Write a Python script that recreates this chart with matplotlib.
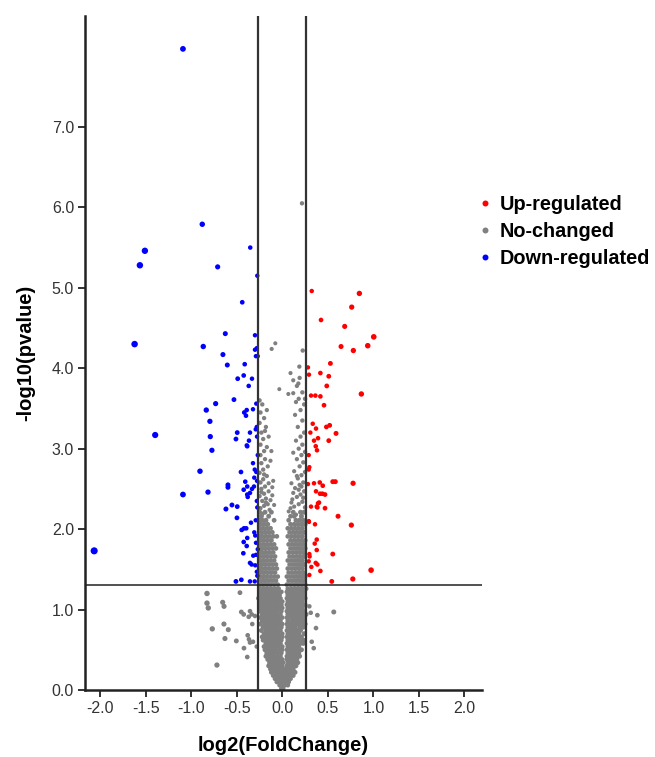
import matplotlib
matplotlib.use("Agg")
import matplotlib.pyplot as plt
from matplotlib.lines import Line2D

plt.rcParams['font.family'] = ['Liberation Sans', 'DejaVu Sans']

# ---------------- data ----------------
up_x = [0.323, 0.846, 0.762, 0.425, 0.685, 1.004, 0.645, 0.938, 0.78, 0.528, 0.282, 0.293, 0.418, 0.51,
        0.488, 0.868, 0.315, 0.363, 0.418, 0.458, 0.334, 0.37, 0.484, 0.52, 0.308, 0.59, 0.392, 0.348,
        0.51, 0.367, 0.381, 0.29, 0.297, 0.29, 0.282, 0.348, 0.411, 0.554, 0.582, 0.777, 0.444, 0.37,
        0.414, 0.44, 0.469, 0.403, 0.392, 0.378, 0.315, 0.385, 0.469, 0.612, 0.29, 0.293, 0.359, 0.758,
        0.378, 0.356, 0.378, 0.297, 0.554, 0.30, 0.29, 0.367, 0.385, 0.319, 0.418, 0.975, 0.297, 0.543, 0.774]
up_y = [4.96, 4.93, 4.76, 4.60, 4.52, 4.39, 4.27, 4.28, 4.22, 4.06, 4.01, 3.92, 3.94, 3.90,
        3.78, 3.68, 3.66, 3.66, 3.65, 3.54, 3.31, 3.25, 3.27, 3.29, 3.20, 3.19, 3.13, 3.10,
        3.10, 3.03, 2.98, 2.92, 2.77, 2.74, 2.56, 2.57, 2.58, 2.59, 2.59, 2.57, 2.54, 2.47,
        2.44, 2.44, 2.43, 2.33, 2.32, 2.28, 2.28, 2.27, 2.26, 2.16, 2.10, 2.09, 2.06, 2.05,
        1.87, 1.82, 1.74, 1.69, 1.69, 1.66, 1.60, 1.58, 1.56, 1.53, 1.48, 1.49, 1.43, 1.35, 1.38]

down_x = [-1.091, -0.879, -0.352, -1.509, -1.564, -0.71, -0.275, -0.44, -0.626, -0.30, -1.622, -0.868,
          -0.28, -0.30, -0.27, -0.29, -0.652, -0.604, -0.413, -0.49, -0.424, -0.333, -0.369, -0.531,
          -0.732, -0.286, -0.835, -0.391, -0.418, -0.322, -0.399, -0.795, -0.281, -0.292, -1.396,
          -0.495, -0.355, -0.791, -0.509, -0.278, -0.366, -0.39, -0.385, -0.773, -0.322, -0.904,
          -0.454, -0.303, -0.286, -0.407, -0.308, -0.278, -0.597, -0.597, -0.385, -0.424, -0.333,
          -0.311, -1.091, -0.816, -0.385, -0.38, -0.355, -0.553, -0.495, -0.619, -0.275, -0.498,
          -0.292, -0.344, -0.396, -0.446, -0.421, -0.308, -0.297, -0.385, -0.424, -0.391, -0.289,
          -0.428, -0.319, -0.289, -0.355, -0.337, -0.297, -0.509, -0.45, -0.355, -0.303, -0.275,
          -2.066, -0.27, -0.28, -0.27, -0.28]
down_y = [7.97, 5.79, 5.50, 5.46, 5.28, 5.26, 5.15, 4.82, 4.43, 4.41, 4.30, 4.27,
          4.25, 4.23, 4.15, 4.15, 4.17, 4.04, 4.05, 3.87, 3.91, 3.87, 3.78, 3.61,
          3.56, 3.56, 3.48, 3.48, 3.45, 3.49, 3.41, 3.34, 3.27, 3.24, 3.17,
          3.20, 3.20, 3.15, 3.12, 3.15, 3.10, 3.04, 3.03, 2.98, 2.82, 2.72,
          2.71, 2.74, 2.71, 2.59, 2.64, 2.60, 2.55, 2.52, 2.53, 2.49, 2.50,
          2.53, 2.43, 2.46, 2.43, 2.40, 2.45, 2.30, 2.28, 2.25, 2.27, 2.14,
          2.11, 2.08, 2.01, 1.99, 2.01, 1.96, 1.92, 1.89, 1.84, 1.79, 1.83,
          1.70, 1.67, 1.68, 1.58, 1.56, 1.55, 1.35, 1.37, 1.35, 1.35, 1.42,
          1.73, 2.92, 2.35, 1.75, 1.47]

# dense non-significant core, read row by row: (-log10 p, [log2FC values])
gray_core_rows = [
    (0.02, [-0.01, 0.01]),
    (0.06, [-0.03, 0.0, 0.03, 0.06]),
    (0.10, [-0.06, -0.03, 0.0, 0.03, 0.07]),
    (0.14, [-0.08, -0.04, -0.01, 0.02, 0.05, 0.09]),
    (0.18, [-0.10, -0.06, -0.02, 0.01, 0.04, 0.08, 0.12]),
    (0.22, [-0.12, -0.08, -0.04, 0.0, 0.03, 0.06, 0.10, 0.14]),
    (0.26, [-0.13, -0.09, -0.05, -0.02, 0.02, 0.05, 0.09, 0.12]),
    (0.30, [-0.15, -0.11, -0.07, -0.03, 0.0, 0.05, 0.08, 0.11, 0.15]),
    (0.34, [-0.14, -0.10, -0.06, -0.02, 0.01, 0.06, 0.10, 0.14, 0.17]),
    (0.38, [-0.16, -0.12, -0.08, -0.04, 0.0, 0.05, 0.09, 0.13, 0.16]),
    (0.42, [-0.18, -0.14, -0.10, -0.06, -0.02, 0.05, 0.08, 0.12, 0.16, 0.19]),
    (0.46, [-0.17, -0.13, -0.09, -0.05, -0.01, 0.06, 0.10, 0.14, 0.18]),
    (0.50, [-0.19, -0.15, -0.11, -0.07, -0.03, 0.0, 0.05, 0.09, 0.13, 0.17, 0.21]),
    (0.54, [-0.20, -0.16, -0.12, -0.08, -0.04, 0.0, 0.06, 0.10, 0.14, 0.18]),
    (0.58, [-0.18, -0.14, -0.10, -0.06, -0.02, 0.05, 0.08, 0.12, 0.16, 0.20, 0.23]),
    (0.62, [-0.21, -0.17, -0.13, -0.09, -0.05, -0.01, 0.06, 0.10, 0.14, 0.18, 0.22]),
    (0.66, [-0.22, -0.19, -0.15, -0.11, -0.07, -0.03, 0.0, 0.05, 0.09, 0.13, 0.17, 0.21]),
    (0.70, [-0.20, -0.16, -0.12, -0.08, -0.04, 0.0, 0.06, 0.10, 0.14, 0.18, 0.24]),
    (0.74, [-0.23, -0.18, -0.14, -0.10, -0.06, -0.02, 0.05, 0.08, 0.12, 0.16, 0.20]),
    (0.78, [-0.21, -0.17, -0.13, -0.09, -0.05, -0.01, 0.06, 0.10, 0.14, 0.19, 0.23]),
    (0.82, [-0.24, -0.19, -0.15, -0.11, -0.07, -0.03, 0.0, 0.05, 0.09, 0.13, 0.17, 0.21, 0.25]),
    (0.86, [-0.22, -0.18, -0.14, -0.10, -0.06, -0.02, 0.06, 0.11, 0.15, 0.19, 0.23]),
    (0.90, [-0.24, -0.20, -0.16, -0.12, -0.08, -0.04, 0.0, 0.05, 0.08, 0.12, 0.16, 0.20, 0.24]),
    (0.94, [-0.22, -0.18, -0.14, -0.10, -0.06, -0.02, 0.06, 0.10, 0.14, 0.18, 0.22, 0.26]),
    (0.98, [-0.25, -0.21, -0.17, -0.13, -0.09, -0.05, -0.01, 0.05, 0.08, 0.12, 0.16, 0.20, 0.24]),
    (1.02, [-0.23, -0.19, -0.15, -0.11, -0.07, -0.03, 0.0, 0.06, 0.10, 0.14, 0.18, 0.22]),
    (1.06, [-0.25, -0.21, -0.17, -0.13, -0.09, -0.05, -0.01, 0.05, 0.08, 0.12, 0.16, 0.20, 0.25]),
    (1.10, [-0.24, -0.20, -0.16, -0.12, -0.08, -0.04, 0.0, 0.06, 0.10, 0.14, 0.18, 0.22]),
    (1.14, [-0.26, -0.22, -0.18, -0.14, -0.10, -0.06, -0.02, 0.05, 0.09, 0.13, 0.17, 0.21, 0.25]),
    (1.18, [-0.23, -0.19, -0.15, -0.11, -0.07, -0.03, 0.06, 0.10, 0.14, 0.18, 0.23]),
    (1.22, [-0.25, -0.21, -0.17, -0.13, -0.09, -0.05, -0.01, 0.05, 0.08, 0.12, 0.16, 0.20, 0.24]),
    (1.26, [-0.24, -0.20, -0.16, -0.12, -0.08, -0.04, 0.06, 0.10, 0.14, 0.18, 0.22, 0.26]),
    (1.31, [-0.25, -0.21, -0.17, -0.13, -0.09, -0.05, 0.05, 0.09, 0.13, 0.17, 0.21, 0.25]),
    (1.36, [-0.23, -0.19, -0.15, -0.11, -0.07, 0.07, 0.11, 0.15, 0.19, 0.23]),
    (1.41, [-0.25, -0.21, -0.17, -0.13, -0.09, -0.05, 0.05, 0.09, 0.13, 0.17, 0.21, 0.25]),
    (1.46, [-0.24, -0.20, -0.16, -0.12, -0.08, 0.07, 0.11, 0.15, 0.19, 0.23]),
    (1.51, [-0.25, -0.22, -0.18, -0.14, -0.10, -0.06, 0.06, 0.10, 0.14, 0.18, 0.22]),
    (1.56, [-0.23, -0.19, -0.15, -0.11, -0.07, 0.08, 0.12, 0.16, 0.20, 0.24]),
    (1.61, [-0.25, -0.21, -0.17, -0.13, -0.09, 0.06, 0.10, 0.14, 0.18, 0.22]),
    (1.66, [-0.24, -0.20, -0.16, -0.12, -0.08, 0.08, 0.12, 0.16, 0.20, 0.24]),
    (1.71, [-0.25, -0.22, -0.18, -0.14, -0.10, 0.07, 0.11, 0.15, 0.19, 0.23]),
    (1.76, [-0.23, -0.19, -0.15, -0.11, -0.07, 0.09, 0.13, 0.17, 0.21, 0.25]),
    (1.81, [-0.25, -0.21, -0.17, -0.13, -0.09, 0.07, 0.11, 0.15, 0.19, 0.23]),
    (1.86, [-0.24, -0.20, -0.16, -0.12, 0.09, 0.13, 0.17, 0.21, 0.25]),
    (1.91, [-0.25, -0.22, -0.18, -0.14, -0.10, -0.06, 0.06, 0.10, 0.14, 0.18, 0.22]),
    (1.96, [-0.23, -0.19, -0.15, -0.11, 0.08, 0.12, 0.16, 0.20, 0.24]),
    (2.01, [-0.25, -0.21, -0.17, -0.13, 0.06, 0.10, 0.14, 0.18, 0.22]),
    (2.06, [-0.24, -0.20, -0.16, 0.09, 0.13, 0.17, 0.21, 0.25]),
    (2.11, [-0.25, -0.22, -0.18, -0.09, 0.07, 0.15, 0.19, 0.23]),
    (2.16, [-0.23, -0.15, 0.09, 0.13, 0.21]),
    (2.21, [-0.25, -0.19, -0.12, 0.12, 0.20, 0.24]),
]

# sparser non-significant points
gray_sparse_x = [
    -0.24, -0.20, -0.16, -0.22, -0.18, -0.13, -0.25, -0.20, -0.15, -0.23, -0.19, -0.11, -0.24, -0.21,
    -0.17, -0.25, -0.21, -0.16, -0.23, -0.19, -0.13, -0.24, -0.20, -0.17, -0.24, -0.21, -0.15, -0.23,
    -0.18, -0.25, -0.20, -0.24, -0.17, -0.22, -0.25, -0.19, -0.12, -0.10,
    -0.22, -0.14, -0.18, -0.09, -0.23, -0.15, -0.11, -0.20,
    0.09, 0.13, 0.18, 0.22, 0.25, 0.11, 0.16, 0.20, 0.24, 0.14, 0.19, 0.23, 0.10, 0.17, 0.21, 0.25,
    0.13, 0.19, 0.23, 0.16, 0.21, 0.25, 0.12, 0.18, 0.22, 0.15, 0.20, 0.24, 0.17, 0.22, 0.14, 0.20,
    0.24, 0.18, 0.22, 0.16, 0.12, 0.19, 0.09, 0.25, 0.15,
    0.15, 0.07, 0.23, 0.12, 0.18, 0.21, 0.10, 0.16,
    -0.117, -0.077, 0.224, 0.187, 0.216, -0.033, 0.066, 0.12, 0.176,
    -0.827, -0.827, -0.813, -0.655, -0.64, -0.465, -0.45, -0.424, -0.355, -0.336, -0.369, -0.33, -0.30,
    -0.769, -0.641, -0.593, -0.63, -0.505, -0.38, -0.366, -0.355, -0.421, -0.385, -0.281, -0.322, -0.718,
    0.312, 0.385, 0.565, 0.37, 0.323, 0.345, 0.297, 0.235]
gray_sparse_y = [
    2.26, 2.29, 2.31, 2.35, 2.38, 2.36, 2.41, 2.44, 2.47, 2.50, 2.53, 2.52, 2.58, 2.62,
    2.66, 2.70, 2.74, 2.78, 2.82, 2.87, 2.85, 2.92, 2.97, 3.02, 3.05, 3.12, 3.15, 3.20,
    3.27, 3.32, 3.38, 3.45, 3.48, 3.55, 3.60, 3.22, 2.97, 2.60,
    2.19, 2.24, 2.33, 2.30, 2.46, 2.57, 2.42, 2.68,
    2.26, 2.28, 2.31, 2.34, 2.27, 2.37, 2.40, 2.43, 2.47, 2.51, 2.55, 2.58, 2.57, 2.63, 2.67, 2.71,
    2.72, 2.78, 2.83, 2.87, 2.92, 2.96, 2.95, 3.00, 3.05, 3.10, 3.15, 3.20, 3.27, 3.35, 3.42, 3.48,
    3.55, 3.62, 3.70, 3.78, 3.85, 3.88, 3.94, 3.62, 3.58,
    2.18, 2.22, 2.39, 2.45, 2.49, 2.53, 2.33, 2.66,
    4.24, 4.31, 4.22, 4.02, 6.05, 3.74, 3.68, 3.69, 3.81,
    1.20, 1.08, 1.02, 1.09, 1.04, 1.21, 0.97, 0.94, 0.98, 0.94, 0.91, 0.82, 0.92,
    0.76, 0.82, 0.75, 0.64, 0.61, 0.68, 0.63, 0.59, 0.52, 0.41, 0.54, 0.60, 0.31,
    0.96, 0.93, 0.97, 0.77, 0.60, 0.52, 1.04, 0.62]

fc_cut = 0.263          # log2(1.2)
p_cut = 1.301           # -log10(0.05)
x_ticks = [-2.0, -1.5, -1.0, -0.5, 0.0, 0.5, 1.0, 1.5, 2.0]
y_ticks = [0.0, 1.0, 2.0, 3.0, 4.0, 5.0, 6.0, 7.0]
legend_labels = ['Up-regulated', 'No-changed', 'Down-regulated']
colors = ['#FF0000', '#808080', '#0000FF']

# ---------------- plot ----------------
n_core = sum(len(xs) for _, xs in gray_core_rows)
gray_x = [x for y, xs in gray_core_rows for x in xs] + gray_sparse_x
gray_y = [y for y, xs in gray_core_rows for x in xs] + gray_sparse_y


def sizes(xs, base=7.5):
    return [base + 9 * abs(v) for v in xs]


fig = plt.figure(figsize=(6.55, 7.57), dpi=100)
ax = fig.add_axes([0.130, 0.0885, 0.6055, 0.8905])

ax.scatter(gray_x[:n_core], gray_y[:n_core], s=sizes(gray_x[:n_core], 11),
           c=colors[1], linewidths=0, zorder=2)
ax.scatter(gray_x[n_core:], gray_y[n_core:], s=sizes(gray_x[n_core:], 8),
           c=colors[1], linewidths=0, zorder=2)
ax.scatter(up_x, up_y, s=sizes(up_x), c=colors[0], linewidths=0, zorder=3)
ax.scatter(down_x, down_y, s=sizes(down_x), c=colors[2], linewidths=0, zorder=3)

ax.axvline(-fc_cut, color='#333333', lw=1.6, zorder=4)
ax.axvline(fc_cut, color='#333333', lw=1.6, zorder=4)
ax.axhline(p_cut, color='#222222', lw=1.1, zorder=4)

ax.set_xlim(-2.165, 2.19)
ax.set_ylim(0, 8.38)
ax.set_xticks(x_ticks)
ax.set_xticklabels([f'{t:.1f}' for t in x_ticks])
ax.set_yticks(y_ticks)
ax.set_yticklabels([f'{t:.1f}' for t in y_ticks])
ax.tick_params(axis='both', labelsize=11.5, colors='#222222', labelcolor='#333333',
               length=5, width=1.3, direction='out', pad=3)

for s in ['top', 'right']:
    ax.spines[s].set_visible(False)
for s in ['left', 'bottom']:
    ax.spines[s].set_linewidth(1.8)
    ax.spines[s].set_color('#222222')

ax.set_xlabel('log2(FoldChange)', fontsize=14.5, fontweight='bold', labelpad=14)
ax.set_ylabel('-log10(pvalue)', fontsize=14.5, fontweight='bold', labelpad=12)

handles = [Line2D([0], [0], marker='o', linestyle='', markersize=4.3,
                  markerfacecolor=c, markeredgewidth=0) for c in colors]
fig.legend(handles, legend_labels, loc='upper left', bbox_to_anchor=(0.716, 0.755),
           frameon=False, prop={'weight': 'bold', 'size': 14.3}, handlelength=0.6,
           handletextpad=0.45, labelspacing=0.40, borderpad=0)

fig.savefig('out.png', dpi=100)
